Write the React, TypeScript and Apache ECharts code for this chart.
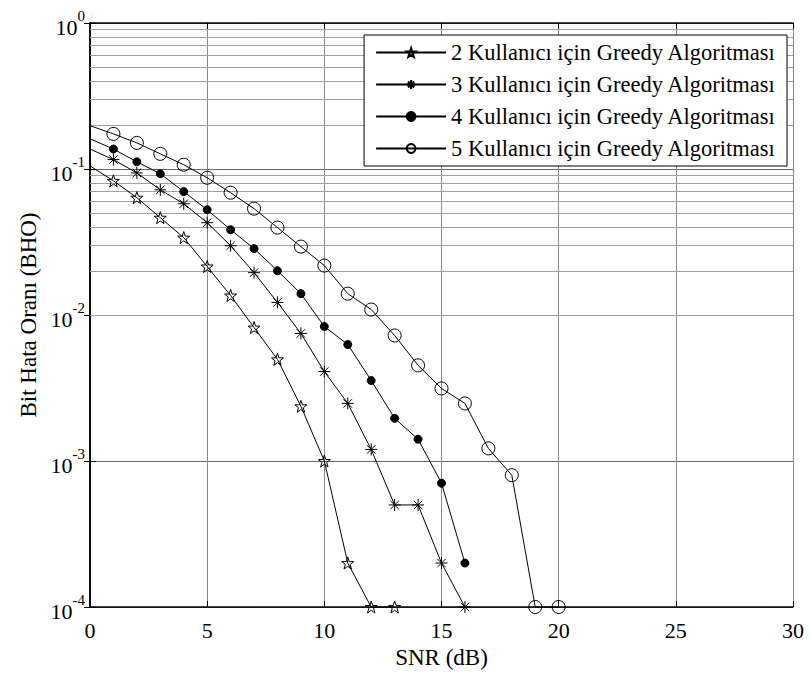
import React, { useEffect, useRef } from "react";
import * as echarts from "echarts";

const seriesNames = [
  "2 Kullanıcı için Greedy Algoritması",
  "3 Kullanıcı için Greedy Algoritması",
  "4 Kullanıcı için Greedy Algoritması",
  "5 Kullanıcı için Greedy Algoritması",
];

const snr2 = [0, 1, 2, 3, 4, 5, 6, 7, 8, 9, 10, 11, 12, 13];
const ber2 = [0.105, 0.083, 0.0636, 0.0464, 0.0339, 0.0215, 0.0136, 0.0082, 0.00497, 0.00237, 0.001, 0.0002, 0.0001, 0.0001];

const snr3 = [0, 1, 2, 3, 4, 5, 6, 7, 8, 9, 10, 11, 12, 13, 14, 15, 16];
const ber3 = [0.137, 0.116, 0.094, 0.072, 0.0578, 0.0429, 0.0298, 0.0195, 0.0122, 0.00748, 0.0041, 0.00248, 0.0012, 0.0005, 0.0005, 0.0002, 0.0001];

const snr4 = [0, 1, 2, 3, 4, 5, 6, 7, 8, 9, 10, 11, 12, 13, 14, 15, 16];
const ber4 = [0.161, 0.137, 0.112, 0.0928, 0.07, 0.0526, 0.0384, 0.0285, 0.0201, 0.014, 0.00834, 0.00628, 0.00356, 0.00196, 0.00141, 0.000705, 0.0002];

const snr5 = [0, 1, 2, 3, 4, 5, 6, 7, 8, 9, 10, 11, 12, 13, 14, 15, 16, 17, 18, 19, 20];
const ber5 = [0.198, 0.174, 0.151, 0.127, 0.107, 0.0871, 0.0688, 0.0535, 0.0397, 0.0294, 0.0218, 0.014, 0.0109, 0.00724, 0.00452, 0.00314, 0.00248, 0.00122, 0.0008, 0.0001, 0.0001];

const xTicks = [0, 5, 10, 15, 20, 25, 30];
const yDecades = [-4, -3, -2, -1];
const minorMultipliers = [2, 3, 4, 5, 6, 7, 8, 9];

const FONT = "Times New Roman, Liberation Serif, DejaVu Serif, serif";
const STAR = "path://M0,-10 L2.35,-3.24 L9.51,-3.09 L3.80,1.24 L5.88,8.09 L0,4 L-5.88,8.09 L-3.80,1.24 L-9.51,-3.09 L-2.35,-3.24 Z";
const ASTER = "path://M0,-6 L0,6 M-6,0 L6,0 M-4.2,-4.2 L4.2,4.2 M-4.2,4.2 L4.2,-4.2";

function makeSeries(name: string, xs: number[], ys: number[], symbol: string, size: number, fill: string) {
  return {
    name,
    type: "line",
    data: xs.map((x, i) => (i === 0 ? { value: [x, ys[i]], symbol: "none" } : [x, ys[i]])),
    symbol,
    symbolSize: size,
    showSymbol: true,
    showAllSymbol: true,
    clip: false,
    lineStyle: { color: "#000", width: 1 },
    itemStyle: { color: fill, borderColor: "#000", borderWidth: 1 },
    z: 5,
  };
}

export default function App() {
  const ref = useRef<HTMLDivElement>(null);
  useEffect(() => {
    document.body.style.margin = "0";
    const chart = echarts.init(ref.current!, null, { renderer: "svg" });
    const minorLevels: number[] = [];
    yDecades.forEach((d) => minorMultipliers.forEach((m) => minorLevels.push(m * Math.pow(10, d))));

    const s2: any = makeSeries(seriesNames[0], snr2, ber2, STAR, 12, "rgba(0,0,0,0)");
    s2.markLine = {
      silent: true,
      symbol: ["none", "none"],
      label: { show: false },
      lineStyle: { color: "#a0a0a0", width: 1, type: "solid" },
      data: minorLevels.map((v) => ({ yAxis: v })),
      z: 1,
    };

    const option: any = {
      animation: false,
      backgroundColor: "#fff",
      textStyle: { fontFamily: FONT },
      grid: { left: 90, right: 17, top: 23, bottom: 68 },
      legend: {
        orient: "vertical",
        right: 23,
        top: 35,
        data: seriesNames,
        itemWidth: 70,
        itemHeight: 11,
        itemGap: 9,
        padding: [6, 11, 6, 11],
        backgroundColor: "#fff",
        borderColor: "#000",
        borderWidth: 1,
        textStyle: { fontFamily: FONT, fontSize: 22.5, color: "#000" },
      },
      xAxis: [
        {
          type: "value",
          min: 0,
          max: 30,
          interval: 5,
          name: "SNR (dB)",
          nameLocation: "middle",
          nameGap: 36,
          nameTextStyle: { fontFamily: FONT, fontSize: 23, color: "#000" },
          axisLine: { show: true, lineStyle: { color: "#000", width: 1.5 } },
          axisTick: { show: true, inside: true, length: 6, lineStyle: { color: "#000" } },
          axisLabel: {
            fontFamily: FONT,
            fontSize: 22,
            color: "#000",
            margin: 12,
            formatter: (v: number) => (xTicks.includes(v) ? String(v) : ""),
          },
          splitLine: { show: true, lineStyle: { color: "#8a8a8a", width: 1 } },
        },
        {
          type: "value",
          position: "top",
          min: 0,
          max: 30,
          interval: 5,
          axisLine: { show: true, lineStyle: { color: "#000", width: 1.5 } },
          axisTick: { show: true, inside: true, length: 6, lineStyle: { color: "#000" } },
          axisLabel: { show: false },
          splitLine: { show: false },
        },
      ],
      yAxis: [
        {
          type: "log",
          logBase: 10,
          min: 0.0001,
          max: 1,
          name: "Bit Hata Oranı (BHO)",
          nameLocation: "middle",
          nameGap: 50,
          nameTextStyle: { fontFamily: FONT, fontSize: 23, color: "#000" },
          axisLine: { show: true, lineStyle: { color: "#000", width: 1.5 } },
          axisTick: { show: true, inside: true, length: 6, lineStyle: { color: "#000" } },
          axisLabel: {
            margin: 5,
            fontFamily: FONT,
            formatter: (v: number) => `{b|10}{s|${Math.round(Math.log10(v))}}`,
            rich: {
              b: { fontFamily: FONT, fontSize: 22, color: "#000", lineHeight: 30, verticalAlign: "bottom" },
              s: { fontFamily: FONT, fontSize: 15, color: "#000", lineHeight: 16, verticalAlign: "top" },
            },
          },
          splitLine: { show: true, lineStyle: { color: "#666", width: 1 } },
        },
        {
          type: "log",
          logBase: 10,
          min: 0.0001,
          max: 1,
          position: "right",
          axisLine: { show: true, lineStyle: { color: "#000", width: 1.5 } },
          axisTick: { show: true, inside: true, length: 6, lineStyle: { color: "#000" } },
          axisLabel: { show: false },
          splitLine: { show: false },
        },
      ],
      series: [
        s2,
        makeSeries(seriesNames[1], snr3, ber3, ASTER, 12, "rgba(0,0,0,0)"),
        makeSeries(seriesNames[2], snr4, ber4, "circle", 8, "#000"),
        makeSeries(seriesNames[3], snr5, ber5, "circle", 13, "rgba(0,0,0,0)"),
      ],
    };
    chart.setOption(option);
    return () => chart.dispose();
  }, []);
  return <div ref={ref} style={{ width: 810, height: 675 }} />;
}
